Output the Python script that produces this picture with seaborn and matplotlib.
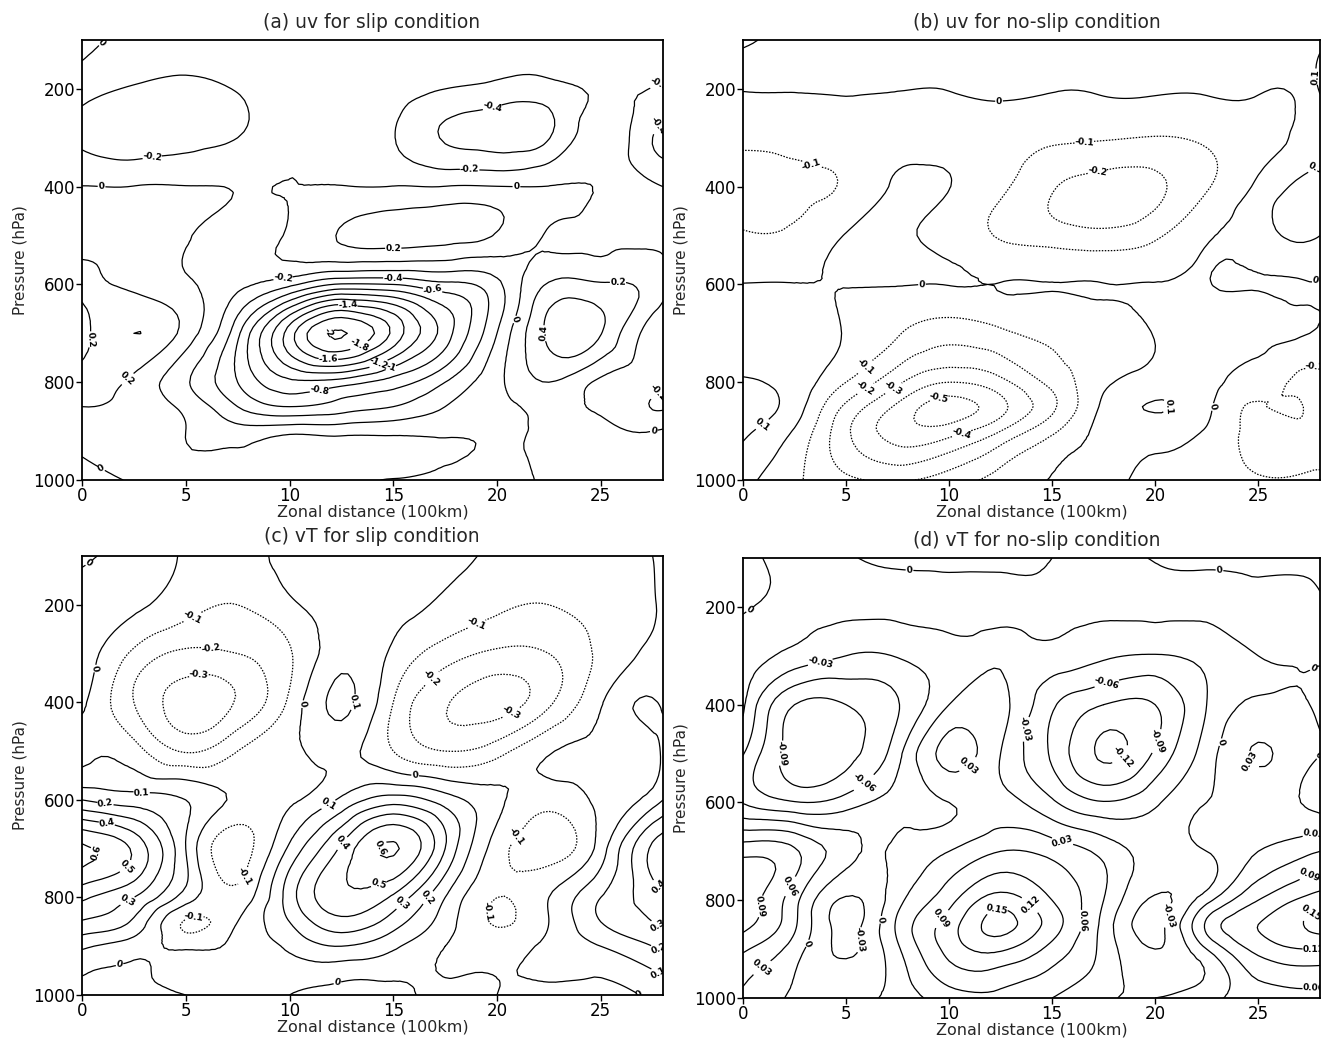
import numpy as np
import matplotlib
matplotlib.use("Agg")
import matplotlib.pyplot as plt
import matplotlib.tri as mtri
import seaborn as sns

sns.set_theme(style="white")
plt.rcParams['font.family'] = ['DejaVu Sans']

# grid (zonal distance in 100 km, pressure in hPa)
X_KM = [0, 2.5, 5, 7.5, 10, 12.5, 15, 17.5, 20, 22.5, 25, 27.5, 28]
P_HPA = [100, 200, 300, 400, 500, 600, 700, 800, 850, 900, 1000]

# (a) uv, slip
UV_SLIP = [
    [0.06, -0.06, -0.10, -0.10, -0.08, -0.06, -0.08, -0.10, -0.10, -0.10, -0.10, -0.15, -0.16],
    [-0.12, -0.22, -0.25, -0.19, -0.10, -0.08, -0.12, -0.20, -0.26, -0.27, -0.17, -0.21, -0.24],
    [-0.24, -0.32, -0.28, -0.20, -0.05, -0.03, -0.19, -0.42, -0.50, -0.41, -0.08, -0.40, -0.45],
    [0.005, 0.005, 0.005, -0.01, 0.004, 0.005, 0.005, 0.005, 0.005, 0.005, -0.01, -0.17, -0.20],
    [0.12, 0.12, 0.02, -0.08, 0.03, 0.22, 0.28, 0.27, 0.18, -0.02, -0.06, -0.06, -0.06],
    [0.25, 0.15, 0.03, -0.15, -0.35, -0.62, -0.60, -0.45, -0.25, 0.22, 0.22, 0.12, 0.05],
    [0.10, 0.40, 0.12, -0.55, -1.50, -2.02, -1.55, -0.90, -0.20, 0.45, 0.41, -0.10, -0.15],
    [0.28, 0.15, -0.17, -0.60, -0.95, -0.90, -0.70, -0.40, -0.05, 0.20, -0.05, -0.15, -0.19],
    [0.20, 0.12, -0.05, -0.40, -0.60, -0.50, -0.40, -0.20, -0.05, 0.05, -0.05, -0.21, -0.22],
    [0.08, 0.10, 0.00, -0.12, -0.06, -0.07, -0.05, -0.03, -0.02, 0.03, 0.05, 0.00, 0.02],
    [-0.05, 0.01, 0.04, 0.03, 0.03, 0.03, -0.01, -0.06, -0.05, 0.02, 0.05, 0.06, 0.06],
]

# (b) uv, no-slip
UV_NOSLIP = [
    [0.12, 0.06, 0.05, 0.05, 0.05, 0.05, 0.05, 0.05, 0.05, 0.05, 0.05, 0.06, 0.08],
    [0.005, 0.005, 0.005, 0.003, 0.003, 0.02, 0.005, 0.008, 0.01, 0.01, 0.01, 0.06, 0.11],
    [-0.08, -0.07, -0.04, -0.03, -0.03, -0.05, -0.08, -0.09, -0.105, -0.08, -0.03, 0.03, 0.05],
    [-0.13, -0.12, -0.085, 0.015, 0.002, -0.08, -0.19, -0.24, -0.22, -0.11, 0.02, 0.14, 0.15],
    [-0.09, -0.08, 0.005, 0.02, -0.03, -0.11, -0.15, -0.17, -0.12, -0.01, 0.05, 0.12, 0.10],
    [0.002, 0.002, 0.002, 0.002, 0.002, 0.002, 0.002, 0.002, 0.003, 0.003, -0.003, -0.003, -0.003],
    [0.05, 0.04, -0.005, -0.09, -0.16, -0.12, -0.08, -0.05, 0.005, 0.04, 0.03, 0.0, -0.01],
    [0.11, 0.06, -0.10, -0.28, -0.40, -0.33, -0.17, -0.02, 0.05, 0.03, -0.06, -0.12, -0.12],
    [0.15, 0.05, -0.22, -0.42, -0.54, -0.43, -0.22, 0.02, 0.105, 0.02, -0.11, -0.13, -0.20],
    [0.12, -0.01, -0.28, -0.45, -0.45, -0.30, -0.12, 0.03, 0.05, -0.01, -0.13, -0.12, -0.12],
    [0.03, -0.08, -0.18, -0.21, -0.15, -0.06, 0.005, 0.02, -0.02, -0.05, -0.09, -0.08, -0.08],
]

# (c) vT, slip
VT_SLIP = [
    [-0.02, 0.03, -0.01, -0.04, 0.03, 0.05, 0.05, 0.03, -0.02, -0.05, -0.04, 0.0, 0.02],
    [0.05, 0.02, -0.06, -0.10, -0.02, 0.04, 0.04, -0.02, -0.08, -0.10, -0.07, -0.01, 0.02],
    [0.06, -0.12, -0.22, -0.20, -0.11, 0.06, -0.02, -0.15, -0.22, -0.20, -0.08, 0.03, 0.05],
    [0.02, -0.20, -0.34, -0.29, -0.08, 0.12, -0.10, -0.29, -0.34, -0.22, -0.01, 0.105, 0.09],
    [-0.03, -0.06, -0.21, -0.10, -0.02, 0.03, -0.10, -0.20, -0.14, -0.01, 0.03, 0.08, 0.11],
    [0.20, 0.15, 0.10, -0.03, -0.02, 0.12, 0.25, 0.15, 0.02, -0.06, 0.02, 0.15, 0.20],
    [0.62, 0.48, 0.10, -0.15, 0.12, 0.42, 0.61, 0.30, -0.05, -0.15, 0.05, 0.42, 0.46],
    [0.42, 0.30, 0.05, -0.06, 0.25, 0.47, 0.38, 0.10, -0.10, 0.0, 0.20, 0.35, 0.38],
    [0.29, 0.18, -0.11, 0.0, 0.20, 0.37, 0.25, 0.05, -0.11, 0.0, 0.20, 0.30, 0.32],
    [0.12, 0.05, -0.02, 0.02, 0.12, 0.20, 0.12, 0.0, -0.05, 0.02, 0.10, 0.20, 0.22],
    [-0.02, -0.03, 0.0, 0.03, 0.0, -0.05, -0.03, 0.03, 0.0, -0.02, -0.03, 0.02, 0.04],
]

# (d) vT, no-slip
VT_NOSLIP = [
    [-0.005, 0.005, 0.002, -0.005, -0.005, -0.005, 0.0, 0.01, -0.002, -0.005, -0.005, -0.005, -0.005],
    [-0.002, 0.005, 0.005, 0.005, 0.005, 0.004, 0.004, 0.004, 0.005, 0.005, 0.005, 0.004, 0.002],
    [0.01, -0.01, -0.03, -0.028, -0.01, -0.003, -0.01, -0.025, -0.032, -0.02, 0.0, 0.003, 0.003],
    [0.005, -0.09, -0.09, -0.062, 0.0, 0.01, -0.055, -0.09, -0.09, -0.03, 0.005, 0.0, -0.005],
    [-0.028, -0.105, -0.10, -0.04, 0.04, 0.0, -0.065, -0.125, -0.085, -0.015, 0.033, 0.005, 0.0],
    [-0.032, -0.058, -0.045, -0.015, 0.0, 0.01, -0.025, -0.058, -0.035, 0.0, 0.01, -0.005, -0.01],
    [0.08, 0.065, 0.01, 0.005, 0.03, 0.06, 0.05, 0.02, -0.01, 0.0, 0.03, 0.055, 0.06],
    [0.11, 0.04, -0.035, 0.02, 0.08, 0.135, 0.09, 0.03, -0.035, 0.02, 0.09, 0.13, 0.135],
    [0.10, 0.035, -0.04, 0.035, 0.105, 0.16, 0.105, 0.02, -0.04, 0.065, 0.12, 0.155, 0.16],
    [0.065, 0.015, -0.035, 0.025, 0.10, 0.125, 0.08, 0.02, -0.03, 0.03, 0.10, 0.12, 0.12],
    [0.025, -0.005, -0.005, 0.01, 0.045, 0.05, 0.03, 0.005, 0.0, 0.02, 0.045, 0.05, 0.05],
]

LEVELS_A = [-2.0, -1.8, -1.6, -1.4, -1.2, -1.0, -0.8, -0.6, -0.4, -0.2, 0.0, 0.2, 0.4]
LEVELS_B = [-0.5, -0.4, -0.3, -0.2, -0.1, 0.0, 0.1]
LEVELS_C = [-0.3, -0.2, -0.1, 0.0, 0.1, 0.2, 0.3, 0.4, 0.5, 0.6]
LEVELS_D = [-0.12, -0.09, -0.06, -0.03, 0.0, 0.03, 0.06, 0.09, 0.12, 0.15]

TITLES = ["(a) uv for slip condition", "(b) uv for no-slip condition",
          "(c) vT for slip condition", "(d) vT for no-slip condition"]

W, H = 1322, 1038
fig = plt.figure(figsize=(W / 100, H / 100), dpi=100)

# hPa per 100 km on screen, so the smoothing treats both axes alike
P_PER_X = 42.4


def rect(left, top, right, bottom):
    return [left / W, 1 - bottom / H, (right - left) / W, (bottom - top) / H]


def fmt(v):
    s = f"{v:.2f}".rstrip("0").rstrip(".")
    if s in ("-0", ""):
        s = "0"
    return s


DOT = (0, (1.2, 1.2))


def panel(r, Z, levels, dotted_neg, title, tpos):
    ax = fig.add_axes(r)
    xg, pg = np.meshgrid(np.array(X_KM, float), np.array(P_HPA, float))
    tri = mtri.Triangulation(xg.ravel(), pg.ravel() / P_PER_X)
    refiner = mtri.UniformTriRefiner(tri)
    tr, zr = refiner.refine_field(np.array(Z, float).ravel(), subdiv=3)
    tri2 = mtri.Triangulation(tr.x, tr.y * P_PER_X, tr.triangles)
    styles = [DOT if (dotted_neg and lv < 0) else "solid" for lv in levels]
    cs = ax.tricontour(tri2, zr, levels=levels, colors="black",
                       linewidths=0.9, linestyles=styles)
    ax.clabel(cs, levels=levels, fmt=fmt, fontsize=6.5, inline=True,
              inline_spacing=1)
    for t in cs.labelTexts:
        t.set_fontweight("bold")
    ax.set_xlim(0, 28)
    ax.set_ylim(1000, 100)
    ax.set_xticks([0, 5, 10, 15, 20, 25])
    ax.set_yticks([200, 400, 600, 800, 1000])
    ax.tick_params(axis="both", direction="out", length=4, width=1,
                   labelsize=12, pad=1, bottom=True, left=True,
                   colors="black")
    for s in ax.spines.values():
        s.set_color("black")
        s.set_linewidth(1.3)
    ax.set_xlabel("Zonal distance (100km)", fontsize=11.5, labelpad=0)
    ax.set_ylabel("Pressure (hPa)", fontsize=11, labelpad=4)
    fig.text(tpos[0] / W, 1 - tpos[1] / H, title, ha="center", va="center",
             fontsize=13.5)
    return ax


panel(rect(82, 40, 663, 480), UV_SLIP, LEVELS_A, False, TITLES[0], (372, 22))
panel(rect(743, 40, 1320, 480), UV_NOSLIP, LEVELS_B, True, TITLES[1], (1037, 22))
panel(rect(82, 556, 663, 995), VT_SLIP, LEVELS_C, True, TITLES[2], (372, 537))
panel(rect(743, 558, 1320, 998), VT_NOSLIP, LEVELS_D, False, TITLES[3], (1037, 540))

fig.savefig("out.png", dpi=100, facecolor="white")
